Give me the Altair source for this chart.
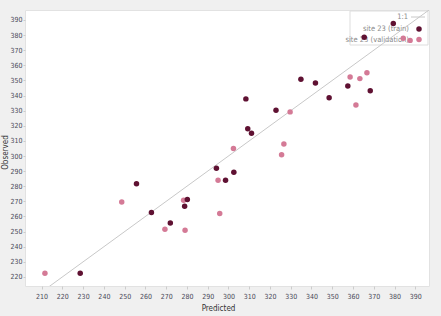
import altair as alt
import pandas as pd

# ---- data ----
train_pred = [228.6, 255.7, 262.9, 272.0, 278.9, 280.2, 294.2, 298.6, 302.6, 308.4,
              309.3, 311.1, 322.9, 334.9, 341.9, 348.5, 357.5, 368.3, 365.4, 379.4]
train_obs = [222.5, 281.7, 262.6, 255.7, 266.8, 271.2, 291.9, 284.0, 289.3, 337.8,
             318.1, 315.0, 330.3, 350.8, 348.3, 338.6, 346.3, 343.2, 378.6, 387.6]

valid_pred = [211.6, 248.6, 269.4, 278.4, 279.1, 295.0, 295.8, 302.4, 325.6, 326.7,
              329.7, 358.6, 361.4, 363.3, 366.7, 384.2, 387.5]
valid_obs = [222.5, 269.6, 251.6, 270.7, 250.9, 284.0, 261.9, 304.9, 300.9, 308.0,
             329.2, 352.3, 333.8, 351.2, 355.1, 377.9, 376.5]

one_to_one = [200, 400]

x_ticks = [210, 220, 230, 240, 250, 260, 270, 280, 290, 300,
           310, 320, 330, 340, 350, 360, 370, 380, 390]
y_ticks = [220, 230, 240, 250, 260, 270, 280, 290, 300,
           310, 320, 330, 340, 350, 360, 370, 380, 390]

legend_labels = ["1:1", "site 23 (train)", "site 23 (validation)"]

DARK = "#5f1132"
LIGHT = "#d47a96"
FONT = "DejaVu Sans Condensed, Liberation Sans, Roboto, sans-serif"
SIZE = 30

train_df = pd.DataFrame({"Predicted": train_pred, "Observed": train_obs})
valid_df = pd.DataFrame({"Predicted": valid_pred, "Observed": valid_obs})
line_df = pd.DataFrame({"Predicted": one_to_one, "Observed": one_to_one})

xscale = alt.Scale(domain=[202, 396.6], nice=False, zero=False)
yscale = alt.Scale(domain=[214, 396.6], nice=False, zero=False)

xaxis = alt.Axis(values=x_ticks, title="Predicted", grid=False, domain=False,
                 tickSize=3, tickColor="#cccccc", labelPadding=3,
                 labelFont=FONT, labelFontSize=7, labelColor="#4a4a58",
                 titleFont=FONT, titleFontSize=8, titleFontWeight="normal",
                 titleColor="#333333", titleX=193, titleY=22, titleBaseline="middle")
yaxis = alt.Axis(values=y_ticks, title="Observed", grid=False, domain=False,
                 tickSize=2, tickColor="#cccccc", labelPadding=1,
                 labelFont=FONT, labelFontSize=7, labelColor="#4a4a58",
                 titleFont=FONT, titleFontSize=8, titleFontWeight="normal",
                 titleColor="#333333", titleX=-20, titleY=142, titleBaseline="middle")

base_none = alt.Chart(alt.Data(values=[{}]))

legend_box = base_none.mark_rect(fill="white", fillOpacity=0.85, stroke="#dddddd",
                                 strokeWidth=1).encode(
    x=alt.value(325), x2=alt.value(403), y=alt.value(1), y2=alt.value(35))

leg_text_kw = dict(align="right", baseline="middle", font=FONT, fontSize=7.5,
                   color="#8a8a8a")
leg_t0 = base_none.mark_text(text=legend_labels[0], **leg_text_kw).encode(
    x=alt.value(383), y=alt.value(7))
leg_t1 = base_none.mark_text(text=legend_labels[1], **leg_text_kw).encode(
    x=alt.value(384), y=alt.value(19))
leg_t2 = base_none.mark_text(text=legend_labels[2], **leg_text_kw).encode(
    x=alt.value(384), y=alt.value(29.5))
leg_line = base_none.mark_rule(color="#c8c8c8", strokeWidth=1).encode(
    x=alt.value(386), x2=alt.value(400), y=alt.value(7))
leg_p1 = base_none.mark_circle(color=DARK, opacity=1, size=SIZE).encode(
    x=alt.value(394), y=alt.value(19))
leg_p2 = base_none.mark_circle(color=LIGHT, opacity=1, size=SIZE).encode(
    x=alt.value(394), y=alt.value(29.5))

line = alt.Chart(line_df).mark_line(color="#c8c8c8", strokeWidth=1, clip=True).encode(
    x=alt.X("Predicted:Q", scale=xscale, axis=xaxis),
    y=alt.Y("Observed:Q", scale=yscale, axis=yaxis))

valid = alt.Chart(valid_df).mark_circle(color=LIGHT, opacity=1, size=SIZE).encode(
    x=alt.X("Predicted:Q", scale=xscale, axis=xaxis),
    y=alt.Y("Observed:Q", scale=yscale, axis=yaxis))

train = alt.Chart(train_df).mark_circle(color=DARK, opacity=1, size=SIZE).encode(
    x=alt.X("Predicted:Q", scale=xscale, axis=xaxis),
    y=alt.Y("Observed:Q", scale=yscale, axis=yaxis))

chart = alt.layer(
    legend_box, leg_t0, leg_t1, leg_t2, leg_line, leg_p1, leg_p2,
    line, valid, train
).properties(
    width=404, height=276,
    background="#f0f0f0",
    padding={"left": 25, "top": 10, "right": 12, "bottom": 30},
    autosize=alt.AutoSizeParams(type="none"),
).configure_view(fill="white", stroke="#e2e2e2")

chart.save("out.html", embed_options={"renderer": "svg", "actions": False})
